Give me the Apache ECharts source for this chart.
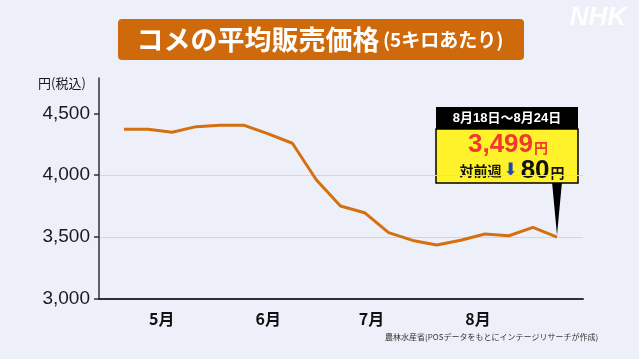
<!DOCTYPE html>
<html>
<head>
<meta charset="utf-8">
<script src="https://cdn.jsdelivr.net/npm/echarts@6/dist/echarts.min.js"></script>
<style>
html,body{margin:0;padding:0;background:#EDF0F9;}
#c{width:639px;height:359px;}
</style>
</head>
<body>
<div id="c"></div>
<script>
// week-ending dates (2025)
const weekEnds = ['2025-04-20','2025-04-27','2025-05-04','2025-05-11','2025-05-18','2025-05-25',
  '2025-06-01','2025-06-08','2025-06-15','2025-06-22','2025-06-29','2025-07-06','2025-07-13',
  '2025-07-20','2025-07-27','2025-08-03','2025-08-10','2025-08-17','2025-08-24'];
const prices = [4371,4371,4347,4392,4403,4403,4333,4258,3961,3751,3697,3536,3473,3436,3474,3525,3511,3579,3499];
const monthTicks = ['2025-05-01','2025-06-01','2025-07-01','2025-08-01'];
const yTicks = [3000,3500,4000,4500];
const titleMain = 'コメの平均販売価格';
const titleSub = '(5キロあたり)';
const unitLabel = '円(税込)';
const calloutPeriod = '8月18日～8月24日';
const sourceText = '農林水産省(POSデータをもとにインテージリサーチが作成)';

const toTs = s => { const p = s.split('-').map(Number); return Date.UTC(p[0], p[1]-1, p[2]); };
const seriesData = weekEnds.map((d,i) => [toTs(d), prices[i]]);
const last = prices[prices.length-1];
const diff = prices[prices.length-2] - last;
const fmt = n => n.toLocaleString('en-US');

const JP = "'Noto Sans CJK JP', sans-serif";
const NUM = "'Liberation Sans', Arial, 'Noto Sans CJK JP', sans-serif";
const chart = echarts.init(document.getElementById('c'));
const DAY = 86400000;
chart.setOption({
  backgroundColor: '#EDF0F9',
  animation: false,
  grid: {left: 99, right: 56, top: 78, bottom: 60},
  xAxis: {
    type: 'value',
    min: toTs(weekEnds[0]) - 7.27*DAY,
    max: toTs(weekEnds[weekEnds.length-1]) + 7.56*DAY,
    axisLine: {show: true, lineStyle: {color: '#2e3038', width: 2}},
    axisTick: {show: false},
    splitLine: {show: false},
    axisLabel: {
      customValues: monthTicks.map(toTs),
      formatter: v => (new Date(v).getUTCMonth()+1) + '月',
      color: '#111', fontSize: 16, fontWeight: 'bold', fontFamily: JP, margin: 12
    }
  },
  yAxis: {
    type: 'value',
    min: 3000, max: 4785, interval: 500,
    axisLine: {show: true, lineStyle: {color: '#2e3038', width: 1.5}},
    axisTick: {show: true, length: 5, customValues: yTicks, lineStyle: {color: '#2e3038', width: 1.5}},
    axisLabel: {customValues: yTicks, formatter: v => fmt(v), color: '#1a1a1a', fontSize: 19, fontFamily: NUM, margin: 9},
    splitLine: {show: true, showMaxLine: false, lineStyle: {color: '#D3D6DE', width: 1.2}}
  },
  series: [{
    type: 'line',
    data: seriesData,
    showSymbol: false,
    lineStyle: {color: '#D4700F', width: 3},
    itemStyle: {color: '#D4700F'}
  }],
  graphic: [
    {type: 'rect', shape: {x: 118, y: 19, width: 406, height: 41, r: 4}, style: {fill: '#CF6A0C'}},
    {type: 'text', x: 320, y: 40, style: {
      text: '{a|' + titleMain + '} {b|' + titleSub + '}',
      align: 'center', verticalAlign: 'middle',
      rich: {
        a: {fontSize: 27, fontWeight: 'bold', fill: '#fff', fontFamily: JP},
        b: {fontSize: 19, fontWeight: 'bold', fill: '#fff', fontFamily: JP}
      }
    }},
    {type: 'text', x: 38, y: 83, style: {text: unitLabel, fontSize: 13, fill: '#1a1a1a', fontFamily: JP, verticalAlign: 'middle'}},
    {type: 'text', x: 598, y: 18, style: {text: 'NHK', fontSize: 26, fontWeight: 900, fontStyle: 'italic', fill: 'rgba(255,255,255,0.9)', fontFamily: NUM, align: 'center', verticalAlign: 'middle'}},
    {type: 'text', x: 385, y: 337, style: {text: sourceText, fontSize: 8, fill: '#333', fontFamily: JP, verticalAlign: 'middle'}},
    // callout
    {type: 'polygon', shape: {points: [[552,182],[562,182],[557,235]]}, style: {fill: '#000'}},
    {type: 'rect', shape: {x: 436, y: 129, width: 142, height: 54}, style: {fill: '#FFF22A', stroke: '#000', lineWidth: 1.5}},
    {type: 'rect', shape: {x: 436, y: 107, width: 142, height: 22}, style: {fill: '#000'}},
    {type: 'text', x: 507, y: 118, style: {text: calloutPeriod, fontSize: 13, fontWeight: 'bold', fill: '#fff', fontFamily: NUM, align: 'center', verticalAlign: 'middle'}},
    {type: 'text', x: 508, y: 145, style: {
      text: '{n|' + fmt(last) + '}{u|円}', align: 'center', verticalAlign: 'middle',
      rich: {
        n: {fontSize: 26, fontWeight: 'bold', fill: '#F2382E', fontFamily: NUM},
        u: {fontSize: 14, fontWeight: 'bold', fill: '#F2382E', fontFamily: JP, padding: [5,0,0,1]}
      }
    }},
    {type: 'text', x: 512, y: 171, style: {
      text: '{t|対前週}{ar|⬇}{n|' + fmt(diff) + '}{u|円}', align: 'center', verticalAlign: 'middle',
      rich: {
        t: {fontSize: 14, fontWeight: 'bold', fill: '#111', fontFamily: JP},
        ar: {fontSize: 17, fill: '#1E4BB0', fontFamily: "'DejaVu Sans', sans-serif", padding: [0,3,0,2]},
        n: {fontSize: 26, fontWeight: 'bold', fill: '#111', fontFamily: NUM},
        u: {fontSize: 14, fontWeight: 'bold', fill: '#111', fontFamily: JP, padding: [4,0,0,1]}
      }
    }}
  ]
});
</script>
</body>
</html>
